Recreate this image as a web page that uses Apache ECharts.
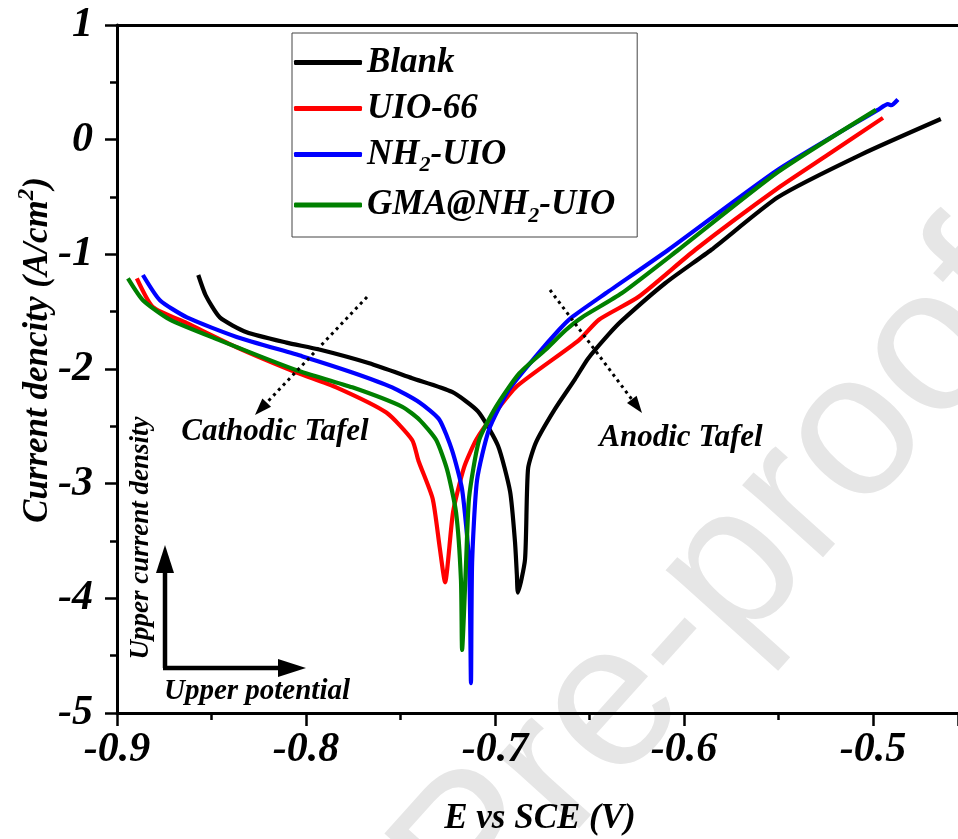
<!DOCTYPE html>
<html>
<head>
<meta charset="utf-8">
<script src="https://cdn.jsdelivr.net/npm/echarts@6/dist/echarts.min.js"></script>
<style>html,body{margin:0;padding:0;background:#fff}#container{width:958px;height:839px}</style>
</head>
<body>
<div id="container"></div>
<script>
var dom = document.getElementById('container');
var myChart = echarts.init(dom);

var serif = '"Liberation Serif", "Times New Roman", serif';

var names = ['Blank', 'UIO-66', 'NH2-UIO', 'GMA@NH2-UIO'];
var colors = ['#000000', '#ff0000', '#0000ff', '#008000'];

// potential (V vs SCE) / log current density
var blankE = [-0.857, -0.853, -0.8456, -0.8314, -0.8103, -0.793, -0.7665, -0.7438, -0.7227, -0.709, -0.6984, -0.692, -0.6894, -0.6884, -0.6879, -0.6841, -0.6825, -0.6783, -0.6683, -0.6577, -0.6508, -0.640, -0.633, -0.6098, -0.5855, -0.5501, -0.5063, -0.4641];
var blankI = [-1.18, -1.36, -1.55, -1.68, -1.77, -1.83, -1.95, -2.08, -2.20, -2.37, -2.67, -3.07, -3.51, -3.80, -3.95, -3.66, -2.87, -2.64, -2.35, -2.09, -1.91, -1.70, -1.58, -1.25, -0.96, -0.50, -0.13, 0.18];

var uioE = [-0.8895, -0.881, -0.863, -0.8367, -0.805, -0.784, -0.7575, -0.7438, -0.7405, -0.733, -0.7293, -0.7264, -0.7222, -0.7164, -0.710, -0.7008, -0.6884, -0.6557, -0.645, -0.624, -0.594, -0.550, -0.5237, -0.4947];
var uioI = [-1.21, -1.46, -1.60, -1.81, -2.03, -2.16, -2.38, -2.62, -2.80, -3.13, -3.55, -3.86, -3.25, -2.86, -2.62, -2.40, -2.15, -1.75, -1.57, -1.37, -0.96, -0.42, -0.13, 0.19];

var nhE = [-0.8863, -0.8773, -0.863, -0.8367, -0.8018, -0.7755, -0.7544, -0.7401, -0.7295, -0.7227, -0.7174, -0.7137, -0.7127, -0.7121, -0.7095, -0.7032, -0.6926, -0.6784, -0.6662, -0.6594, -0.6414, -0.6082, -0.5501, -0.4974, -0.4921, -0.4903, -0.4868];
var nhI = [-1.18, -1.40, -1.55, -1.72, -1.89, -2.03, -2.16, -2.29, -2.44, -2.71, -3.05, -3.69, -4.74, -3.69, -2.97, -2.53, -2.18, -1.89, -1.66, -1.55, -1.34, -0.96, -0.26, 0.26, 0.31, 0.30, 0.35];

var gmaE = [-0.8942, -0.8863, -0.872, -0.8456, -0.805, -0.7755, -0.749, -0.7401, -0.7311, -0.7253, -0.7206, -0.718, -0.7174, -0.7153, -0.7137, -0.7084, -0.6995, -0.6873, -0.6731, -0.6625, -0.654, -0.633, -0.6029, -0.5501, -0.4984];
var gmaI = [-1.21, -1.40, -1.57, -1.75, -2.01, -2.16, -2.33, -2.44, -2.62, -2.88, -3.25, -3.84, -4.45, -3.69, -3.12, -2.62, -2.33, -2.04, -1.83, -1.66, -1.55, -1.34, -0.96, -0.28, 0.26];

var curves = [[blankE, blankI], [uioE, uioI], [nhE, nhI], [gmaE, gmaI]];

function zip(a, b) {
    return a.map(function (v, k) { return [v, b[k]]; });
}

function arrowHead(x0, y0, x1, y1, len, half) {
    var dx = x1 - x0, dy = y1 - y0;
    var d = Math.sqrt(dx * dx + dy * dy);
    var ux = dx / d, uy = dy / d;
    var bx = x1 - ux * len, by = y1 - uy * len;
    return {
        base: [bx, by],
        points: [[x1, y1], [bx - uy * half, by + ux * half], [bx + uy * half, by - ux * half]]
    };
}

function arrow(x0, y0, x1, y1, width, len, half, dash) {
    var h = arrowHead(x0, y0, x1, y1, len, half);
    return [{
        type: 'line',
        shape: { x1: x0, y1: y0, x2: h.base[0], y2: h.base[1] },
        style: { stroke: '#000', lineWidth: width, lineDash: dash || null },
        z: 50
    }, {
        type: 'polygon',
        shape: { points: h.points },
        style: { fill: '#000' },
        z: 50
    }];
}

function label(text, x, y, size, rot) {
    return {
        type: 'text',
        x: x, y: y,
        rotation: rot || 0,
        style: {
            text: text, fill: '#000',
            font: 'italic bold ' + size + 'px ' + serif,
            align: 'center', verticalAlign: 'middle'
        },
        z: 50
    };
}

var graphics = [{
    type: 'text',
    x: 722, y: 585,
    rotation: 48 * Math.PI / 180,
    style: {
        text: 'Pre-proof', fill: '#e6e6e6',
        font: '205px "Liberation Sans", Arial, sans-serif',
        align: 'center', verticalAlign: 'middle'
    },
    z: -10
}, {
    type: 'text',
    x: 38, y: 350,
    rotation: Math.PI / 2,
    style: {
        text: '{a|Current dencity (A/cm}{s|2}{a|)}',
        align: 'center', verticalAlign: 'middle',
        rich: {
            a: { fontSize: 35, fontStyle: 'italic', fontWeight: 'bold', fontFamily: serif, fill: '#000', lineHeight: 40 },
            s: { fontSize: 23, fontStyle: 'italic', fontWeight: 'bold', fontFamily: serif, fill: '#000', padding: [0, 0, 22, 0] }
        }
    },
    z: 50
},
label('E vs SCE (V)', 540, 819, 35),
label('Cathodic Tafel', 275, 432, 31),
label('Anodic Tafel', 681, 438, 31),
label('Upper potential', 257, 692, 29),
label('Upper current density', 141, 538, 27, Math.PI / 2)
];
graphics = graphics
    .concat(arrow(367, 297, 255, 415, 3, 17, 6, [3, 4]))
    .concat(arrow(550, 290, 642, 413, 3, 17, 6, [3, 4]))
    .concat(arrow(165, 668, 165, 545, 4.5, 28, 9))
    .concat(arrow(163, 668, 306, 668, 4.5, 28, 9));

var series = names.map(function (n, k) {
    return {
        name: n,
        type: 'line',
        smooth: 0.2,
        symbol: 'none',
        lineStyle: { color: colors[k], width: 4.2 },
        itemStyle: { color: colors[k] },
        data: zip(curves[k][0], curves[k][1]),
        z: 5
    };
});

var subStyle = { fontSize: 22, fontStyle: 'italic', fontWeight: 'bold', fontFamily: serif, color: '#000', padding: [22, 0, 0, 0] };

option = {
    animation: false,
    backgroundColor: '#fff',
    grid: { left: 117, right: 0, top: 25, bottom: 126 },
    legend: {
        orient: 'vertical',
        left: 292, top: 33,
        padding: [12, 22, 10, 2],
        icon: 'roundRect',
        itemWidth: 68, itemHeight: 5, itemGap: 11,
        borderColor: '#444', borderWidth: 1,
        data: names,
        formatter: function (n) { return n.replace('NH2', 'NH{sub|2}'); },
        textStyle: {
            fontFamily: serif, fontStyle: 'italic', fontWeight: 'bold', fontSize: 35, color: '#000',
            rich: { sub: subStyle }
        }
    },
    xAxis: [{
        type: 'value',
        min: -0.9, max: -0.455, interval: 0.1,
        axisLine: { onZero: false, lineStyle: { color: '#000', width: 3 } },
        axisTick: { inside: false, length: 13, lineStyle: { width: 2.5, color: '#000' } },
        minorTick: { show: true, splitNumber: 2, length: 7, lineStyle: { width: 2.5, color: '#000' } },
        splitLine: { show: false },
        axisLabel: {
            margin: 16, showMaxLabel: false,
            fontFamily: serif, fontStyle: 'italic', fontWeight: 'bold', fontSize: 42, color: '#000',
            formatter: function (v) { return v.toFixed(1); }
        }
    }, {
        type: 'value', position: 'top',
        min: -0.9, max: -0.455,
        axisLine: { show: true, onZero: false, lineStyle: { color: '#000', width: 3 } },
        axisTick: { show: false }, axisLabel: { show: false }, splitLine: { show: false }
    }],
    yAxis: {
        type: 'value',
        min: -5, max: 1, interval: 1,
        axisLine: { show: true, onZero: false, lineStyle: { color: '#000', width: 3 } },
        axisTick: { show: true, inside: false, length: 12, lineStyle: { width: 2.5, color: '#000' } },
        minorTick: { show: true, splitNumber: 2, length: 7, lineStyle: { width: 2.5, color: '#000' } },
        splitLine: { show: false },
        axisLabel: {
            margin: 24,
            fontFamily: serif, fontStyle: 'italic', fontWeight: 'bold', fontSize: 42, color: '#000'
        }
    },
    graphic: graphics,
    series: series
};

if (option && typeof option === 'object') {
    myChart.setOption(option, true);
}
</script>
</body>
</html>
